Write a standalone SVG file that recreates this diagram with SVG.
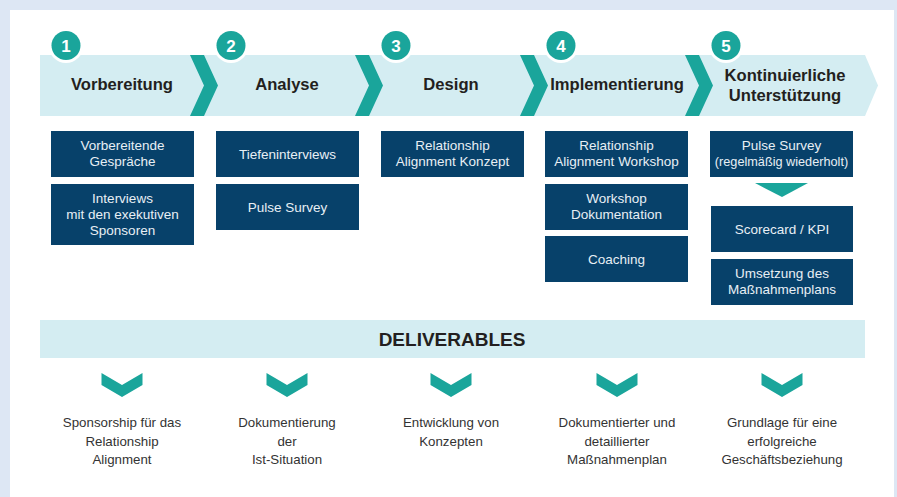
<svg xmlns="http://www.w3.org/2000/svg" width="897" height="497" viewBox="0 0 897 497">
<defs>
<style>
.bg{fill:#dde7f4}
.panel{fill:#ffffff}
.band{fill:#d4edf2}
.teal{fill:#1aa59b}
.ring{fill:#ffffff}
.num{font-family:"Liberation Sans",Arial,sans-serif;font-weight:bold;font-size:17px;fill:#ffffff;text-anchor:middle}
.title{font-family:"Liberation Sans",Arial,sans-serif;font-weight:bold;font-size:16.6px;fill:#231f20;text-anchor:middle}
.box{fill:#07416a}
.bt{font-family:"Liberation Sans",Arial,sans-serif;font-size:13.5px;fill:#e8eff5;text-anchor:middle}
.sm{font-size:12.7px}
.del{font-family:"Liberation Sans",Arial,sans-serif;font-weight:bold;font-size:19px;fill:#231f20;text-anchor:middle}
.dt{font-family:"Liberation Sans",Arial,sans-serif;font-size:13.3px;fill:#333333;text-anchor:middle}
</style>
<path id="chev" d="M0,0 L14,0 L28,30.5 L14,61 L0,61 L14,30.5 Z"/>
<path id="down" d="M-20.5,0 L0,12 L20.5,0 L20.5,12 L0,24 L-20.5,12 Z"/>
</defs>
<rect class="bg" x="0" y="0" width="897" height="497"/>
<rect class="panel" x="10" y="10" width="884" height="487"/>

<g id="banner">
<path class="band" d="M40,55 L865,55 L878,85.5 L865,116 L40,116 Z"/>
</g>

<g id="connectors">
<use href="#chev" class="teal" x="190" y="55"/>
<use href="#chev" class="teal" x="355" y="55"/>
<use href="#chev" class="teal" x="520" y="55"/>
<use href="#chev" class="teal" x="685" y="55"/>
<path class="teal" d="M755,183 L808,183 L782,197 Z"/>
</g>

<g id="phase1">
<circle class="ring" cx="66" cy="45.5" r="17.5"/>
<circle class="teal" cx="66" cy="45.5" r="14.5"/>
<text class="num" x="66" y="51.5">1</text>
<text class="title" x="122" y="90">Vorbereitung</text>
</g>
<g id="phase2">
<circle class="ring" cx="231" cy="45.5" r="17.5"/>
<circle class="teal" cx="231" cy="45.5" r="14.5"/>
<text class="num" x="231" y="51.5">2</text>
<text class="title" x="287" y="90">Analyse</text>
</g>
<g id="phase3">
<circle class="ring" cx="396" cy="45.5" r="17.5"/>
<circle class="teal" cx="396" cy="45.5" r="14.5"/>
<text class="num" x="396" y="51.5">3</text>
<text class="title" x="451" y="90">Design</text>
</g>
<g id="phase4">
<circle class="ring" cx="561" cy="45.5" r="17.5"/>
<circle class="teal" cx="561" cy="45.5" r="14.5"/>
<text class="num" x="561" y="51.5">4</text>
<text class="title" x="617" y="90">Implementierung</text>
</g>
<g id="phase5">
<circle class="ring" cx="726" cy="45.5" r="17.5"/>
<circle class="teal" cx="726" cy="45.5" r="14.5"/>
<text class="num" x="726" y="51.5">5</text>
<text class="title" x="785" y="81">Kontinuierliche</text>
<text class="title" x="785" y="101">Unterstützung</text>
</g>

<g id="box-vorbereitende">
<rect class="box" x="51" y="131" width="143" height="46"/>
<text class="bt" x="122.5" y="150">Vorbereitende</text>
<text class="bt" x="122.5" y="166">Gespräche</text>
</g>
<g id="box-interviews">
<rect class="box" x="51" y="184" width="143" height="61"/>
<text class="bt" x="122.5" y="203">Interviews</text>
<text class="bt" x="122.5" y="219">mit den exekutiven</text>
<text class="bt" x="122.5" y="235">Sponsoren</text>
</g>
<g id="box-tiefen">
<rect class="box" x="216" y="131" width="143" height="46"/>
<text class="bt" x="287.5" y="158.5">Tiefeninterviews</text>
</g>
<g id="box-pulse1">
<rect class="box" x="216" y="184" width="143" height="46"/>
<text class="bt" x="287.5" y="211.5">Pulse Survey</text>
</g>
<g id="box-konzept">
<rect class="box" x="381" y="131" width="143" height="46"/>
<text class="bt" x="452.5" y="150">Relationship</text>
<text class="bt" x="452.5" y="166">Alignment Konzept</text>
</g>
<g id="box-workshop">
<rect class="box" x="545" y="131" width="143" height="46"/>
<text class="bt" x="616.5" y="150">Relationship</text>
<text class="bt" x="616.5" y="166">Alignment Workshop</text>
</g>
<g id="box-doku">
<rect class="box" x="545" y="184" width="143" height="46"/>
<text class="bt" x="616.5" y="203">Workshop</text>
<text class="bt" x="616.5" y="219">Dokumentation</text>
</g>
<g id="box-coaching">
<rect class="box" x="545" y="236" width="143" height="46"/>
<text class="bt" x="616.5" y="263.5">Coaching</text>
</g>
<g id="box-pulse2">
<rect class="box" x="710" y="131" width="143" height="46"/>
<text class="bt" x="781.5" y="150">Pulse Survey</text>
<text class="bt sm" x="781.5" y="166">(regelmäßig wiederholt)</text>
</g>
<g id="box-scorecard">
<rect class="box" x="711" y="206" width="142" height="46"/>
<text class="bt" x="782" y="233.5">Scorecard / KPI</text>
</g>
<g id="box-umsetzung">
<rect class="box" x="711" y="259" width="142" height="46"/>
<text class="bt" x="782" y="278">Umsetzung des</text>
<text class="bt" x="782" y="294">Maßnahmenplans</text>
</g>

<g id="deliverables">
<rect class="band" x="40" y="320" width="825" height="38"/>
<text class="del" x="452" y="346">DELIVERABLES</text>
</g>

<g id="deliv-arrows">
<use href="#down" class="teal" x="122" y="373"/>
<use href="#down" class="teal" x="287" y="373"/>
<use href="#down" class="teal" x="451" y="373"/>
<use href="#down" class="teal" x="617" y="373"/>
<use href="#down" class="teal" x="782" y="373"/>
</g>

<g id="deliv1">
<text class="dt" x="122" y="427">Sponsorship für das</text>
<text class="dt" x="122" y="446">Relationship</text>
<text class="dt" x="122" y="464">Alignment</text>
</g>
<g id="deliv2">
<text class="dt" x="287" y="427">Dokumentierung</text>
<text class="dt" x="287" y="446">der</text>
<text class="dt" x="287" y="464">Ist-Situation</text>
</g>
<g id="deliv3">
<text class="dt" x="451" y="427">Entwicklung von</text>
<text class="dt" x="451" y="446">Konzepten</text>
</g>
<g id="deliv4">
<text class="dt" x="617" y="427">Dokumentierter und</text>
<text class="dt" x="617" y="446">detaillierter</text>
<text class="dt" x="617" y="464">Maßnahmenplan</text>
</g>
<g id="deliv5">
<text class="dt" x="782" y="427">Grundlage für eine</text>
<text class="dt" x="782" y="446">erfolgreiche</text>
<text class="dt" x="782" y="464">Geschäftsbeziehung</text>
</g>
</svg>
